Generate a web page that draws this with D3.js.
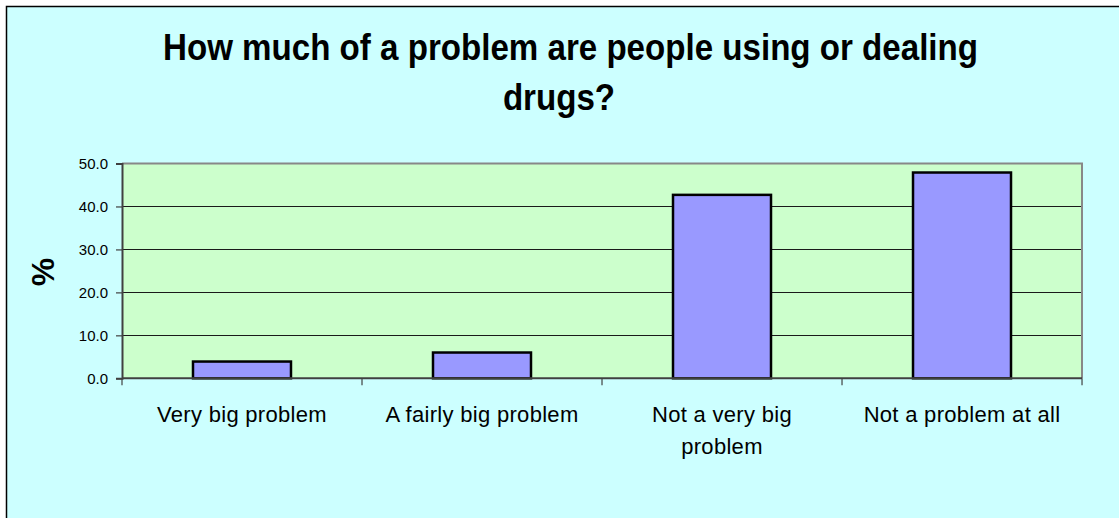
<!DOCTYPE html>
<html>
<head>
<meta charset="utf-8">
<script src="https://cdn.jsdelivr.net/npm/d3@7"></script>
<style>
  html, body { margin: 0; padding: 0; background: #ffffff; }
  svg { display: block; }
  text { font-family: "Liberation Sans", Arial, sans-serif; fill: #000; }
</style>
</head>
<body>
<svg id="chart" width="1119" height="518"></svg>
<script>
const titleLines = ["How much of a problem are people using or dealing", "drugs?"];
const yAxisTitle = "%";
const categories = ["Very big problem", "A fairly big problem", "Not a very big problem", "Not a problem at all"];
const values = [3.9, 6.0, 42.7, 47.9];
const yTicks = [0, 10, 20, 30, 40, 50];
const yTickLabels = ["0.0", "10.0", "20.0", "30.0", "40.0", "50.0"];

const svg = d3.select("#chart");
const plot = { left: 122, right: 1082, top: 163.5, bottom: 378.3 };

// chart area background + border
svg.append("rect").attr("x", 6.5).attr("y", 6.5).attr("width", 1300).attr("height", 700)
  .attr("fill", "#ccffff").attr("stroke", "#000").attr("stroke-width", 1.5);

const x = d3.scaleBand().domain(categories).range([plot.left, plot.right])
  .paddingInner(0.5917).paddingOuter(0.2958);
const y = d3.scaleLinear().domain([0, 50]).range([plot.bottom, plot.top]);

// plot area
svg.append("rect").attr("x", plot.left).attr("y", plot.top)
  .attr("width", plot.right - plot.left).attr("height", plot.bottom - plot.top)
  .attr("fill", "#ccffcc");

// gridlines
svg.append("g").selectAll("line").data(yTicks.filter(d => d > 0 && d < 50)).join("line")
  .attr("x1", plot.left).attr("x2", plot.right)
  .attr("y1", d => Math.round(y(d)) + 0.5).attr("y2", d => Math.round(y(d)) + 0.5)
  .attr("stroke", "#1a1a1a").attr("stroke-width", 1);

// plot border top/right (gray)
svg.append("path")
  .attr("d", `M${plot.left},${plot.top}H${plot.right}V${plot.bottom}`)
  .attr("fill", "none").attr("stroke", "#888888").attr("stroke-width", 2);

// bars
svg.append("g").selectAll("rect").data(values).join("rect")
  .attr("x", (d, i) => x(categories[i]))
  .attr("y", d => y(d))
  .attr("width", x.bandwidth())
  .attr("height", d => y(0) - y(d))
  .attr("fill", "#9999ff").attr("stroke", "#000").attr("stroke-width", 2.5);

// y axis
const yAxis = d3.axisLeft(y).tickValues(yTicks).tickSize(6).tickPadding(8)
  .tickFormat((d, i) => yTickLabels[i]);
const gy = svg.append("g").attr("transform", `translate(${plot.left},0)`).call(yAxis);
gy.select(".domain").attr("stroke", "#404040").attr("stroke-width", 2);
gy.selectAll(".tick line").attr("stroke", "#404040").attr("stroke-width", 1.2);
gy.selectAll(".tick text").attr("font-size", 15).attr("font-family", "Liberation Sans, Arial, sans-serif")
  .attr("fill", "#000");

// x axis line and boundary ticks
const gx = svg.append("g");
gx.append("line").attr("x1", plot.left).attr("x2", plot.right)
  .attr("y1", plot.bottom).attr("y2", plot.bottom)
  .attr("stroke", "#404040").attr("stroke-width", 2);
const bounds = d3.range(categories.length + 1).map(i => plot.left + i * x.step());
gx.selectAll("line.tk").data(bounds).join("line").attr("class", "tk")
  .attr("x1", d => d).attr("x2", d => d)
  .attr("y1", plot.bottom).attr("y2", plot.bottom + 7)
  .attr("stroke", "#404040").attr("stroke-width", 1.2);

// x labels with wrapping
const labelFont = 22, maxLabelW = 212;
const labels = gx.selectAll("text.xl").data(categories).join("text").attr("class", "xl")
  .attr("text-anchor", "middle").attr("font-size", labelFont).attr("letter-spacing", 0.3)
  .attr("x", d => x(d) + x.bandwidth() / 2).attr("y", 422);
labels.each(function(d) {
  const t = d3.select(this);
  const words = d.split(" ");
  let lines = [], cur = [];
  const probe = t.append("tspan");
  words.forEach(w => {
    const test = cur.concat([w]).join(" ");
    probe.text(test);
    if (probe.node().getComputedTextLength() > maxLabelW && cur.length) {
      lines.push(cur.join(" ")); cur = [w];
    } else cur.push(w);
  });
  lines.push(cur.join(" "));
  probe.remove();
  const cx = +t.attr("x");
  lines.forEach((ln, i) => {
    t.append("tspan").attr("x", cx).attr("dy", i === 0 ? 0 : 32).text(ln);
  });
});

// y axis title
svg.append("text").attr("transform", "translate(54,272) rotate(-90)")
  .attr("text-anchor", "middle").attr("font-size", 32).attr("font-weight", "bold")
  .text(yAxisTitle);

// title
const t1 = svg.append("text").attr("x", 570.5).attr("y", 60).attr("text-anchor", "middle")
  .attr("font-size", 36).attr("font-weight", "bold").text(titleLines[0]);
const natural = t1.node().getComputedTextLength();
const targetW = 815;
t1.attr("textLength", targetW).attr("lengthAdjust", "spacingAndGlyphs");
const ratio = targetW / natural;
const t2 = svg.append("text").attr("x", 559).attr("y", 110).attr("text-anchor", "middle")
  .attr("font-size", 36).attr("font-weight", "bold").text(titleLines[1]);
const nat2 = t2.node().getComputedTextLength();
t2.attr("textLength", nat2 * ratio).attr("lengthAdjust", "spacingAndGlyphs");
</script>
</body>
</html>
